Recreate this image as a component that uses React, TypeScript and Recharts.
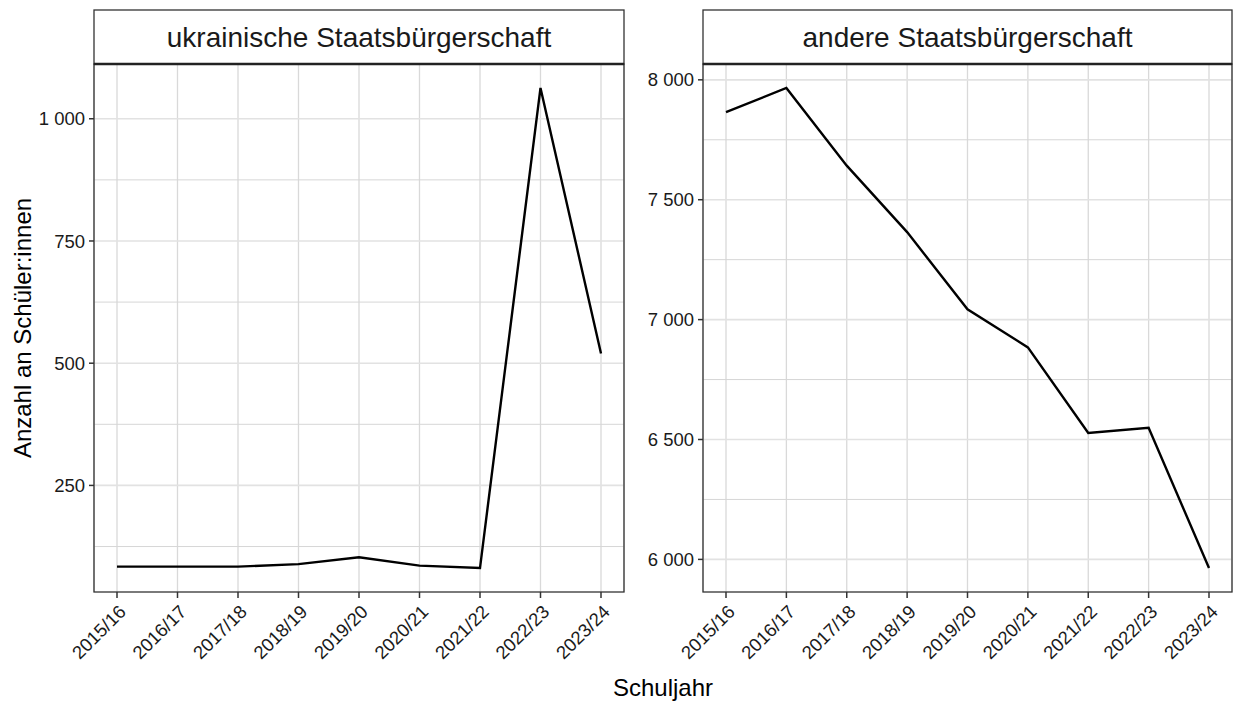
import { LineChart, Line, XAxis, YAxis, CartesianGrid, ReferenceLine } from "recharts";

const FONT = '"Liberation Sans", Arial, Helvetica, sans-serif';

// school years (categories)
const schuljahre = ["2015/16", "2016/17", "2017/18", "2018/19", "2019/20", "2020/21", "2021/22", "2022/23", "2023/24"];

// pupils with Ukrainian citizenship
const ukrainisch = [84, 84, 84, 89, 103, 86, 81, 1063, 520];
// pupils with other citizenship
const andere = [7865, 7966, 7642, 7365, 7043, 6884, 6527, 6549, 5964];

const ukrTicks = [250, 500, 750, 1000];
const ukrMinor = [125, 375, 625, 875];
const andereTicks = [6000, 6500, 7000, 7500, 8000];
const andereMinor = [6250, 6750, 7250, 7750];

const fmt = (v: number) =>
    v >= 1000 ? `${Math.floor(v / 1000)} ${String(v % 1000).padStart(3, "0")}` : String(v);

const XTick = (props: any) => {
    const { x, y, payload } = props;
    return (
        <text
            transform={`translate(${x + 10},${y + 15}) rotate(-45)`}
            textAnchor="end"
            fontSize={18.5}
            fill="#1a1a1a"
            fontFamily={FONT}
        >
            {payload.value}
        </text>
    );
};

type PanelProps = {
    values: number[];
    domain: [number, number];
    ticks: number[];
    minor: number[];
    left: number;
    width: number;
    yAxisWidth: number;
    rightMargin: number;
};

const Panel = ({ values, domain, ticks, minor, left, width, yAxisWidth, rightMargin }: PanelProps) => {
    const data = schuljahre.map((s, i) => ({ jahr: s, wert: values[i] }));
    return (
        <div style={{ position: "absolute", left, top: 0 }}>
            <LineChart width={width} height={706} data={data} margin={{ top: 64, right: rightMargin, left: 0, bottom: 34 }}>
                <CartesianGrid horizontal={false} stroke="#d9d9d9" strokeWidth={1.3} />
                {minor.map((v) => (
                    <ReferenceLine key={"m" + v} y={v} stroke="#d6d6d6" strokeWidth={1} />
                ))}
                {ticks.map((v) => (
                    <ReferenceLine key={"t" + v} y={v} stroke="#e2e2e2" strokeWidth={1.6} />
                ))}
                <XAxis
                    dataKey="jahr"
                    height={80}
                    padding={{ left: 23, right: 23 }}
                    axisLine={false}
                    tickLine={{ stroke: "#333", strokeWidth: 1.5 }}
                    tickSize={6}
                    tickMargin={0}
                    interval={0}
                    tick={<XTick />}
                />
                <YAxis
                    width={yAxisWidth}
                    domain={domain}
                    ticks={ticks}
                    allowDataOverflow
                    axisLine={false}
                    tickLine={{ stroke: "#333", strokeWidth: 1.5 }}
                    tickSize={5}
                    tickMargin={4}
                    tickFormatter={fmt}
                    tick={{ fontSize: 18.5, fill: "#1a1a1a", fontFamily: FONT }}
                />
                <Line
                    type="linear"
                    dataKey="wert"
                    stroke="#000"
                    strokeWidth={2.4}
                    dot={false}
                    isAnimationActive={false}
                />
            </LineChart>
        </div>
    );
};

const App = () => {
    return (
        <div style={{ position: "absolute", left: 0, top: 0, width: 1233, height: 706, background: "#fff", fontFamily: FONT }}>
            <Panel values={ukrainisch} domain={[32, 1112]} ticks={ukrTicks} minor={ukrMinor} left={0} width={640} yAxisWidth={94} rightMargin={16} />
            <Panel values={andere} domain={[5864, 8066]} ticks={andereTicks} minor={andereMinor} left={640} width={593} yAxisWidth={63} rightMargin={1} />

            {/* panel borders, strips and axis titles */}
            <svg width={1233} height={706} style={{ position: "absolute", left: 0, top: 0, pointerEvents: "none" }}>
                <rect x={94} y={64} width={530} height={528} fill="none" stroke="#333" strokeWidth={1.3} />
                <rect x={703} y={64} width={529} height={528} fill="none" stroke="#333" strokeWidth={1.3} />

                <rect x={94} y={10} width={530} height={54} fill="#fff" stroke="#333" strokeWidth={1.3} />
                <rect x={703} y={10} width={529} height={54} fill="#fff" stroke="#333" strokeWidth={1.3} />
                <line x1={94} x2={624} y1={64} y2={64} stroke="#222" strokeWidth={2.6} />
                <line x1={703} x2={1232} y1={64} y2={64} stroke="#222" strokeWidth={2.6} />

                <text x={359} y={47} textAnchor="middle" fontSize={28} fill="#1a1a1a" fontFamily={FONT}>
                    ukrainische Staatsbürgerschaft
                </text>
                <text x={967.5} y={47} textAnchor="middle" fontSize={28} fill="#1a1a1a" fontFamily={FONT}>
                    andere Staatsbürgerschaft
                </text>

                <text transform="translate(31,328) rotate(-90)" textAnchor="middle" fontSize={24} fill="#000" fontFamily={FONT}>
                    Anzahl an Schüler:innen
                </text>
                <text x={663} y={696} textAnchor="middle" fontSize={24} fill="#000" fontFamily={FONT}>
                    Schuljahr
                </text>
            </svg>
        </div>
    );
};

export default App;
